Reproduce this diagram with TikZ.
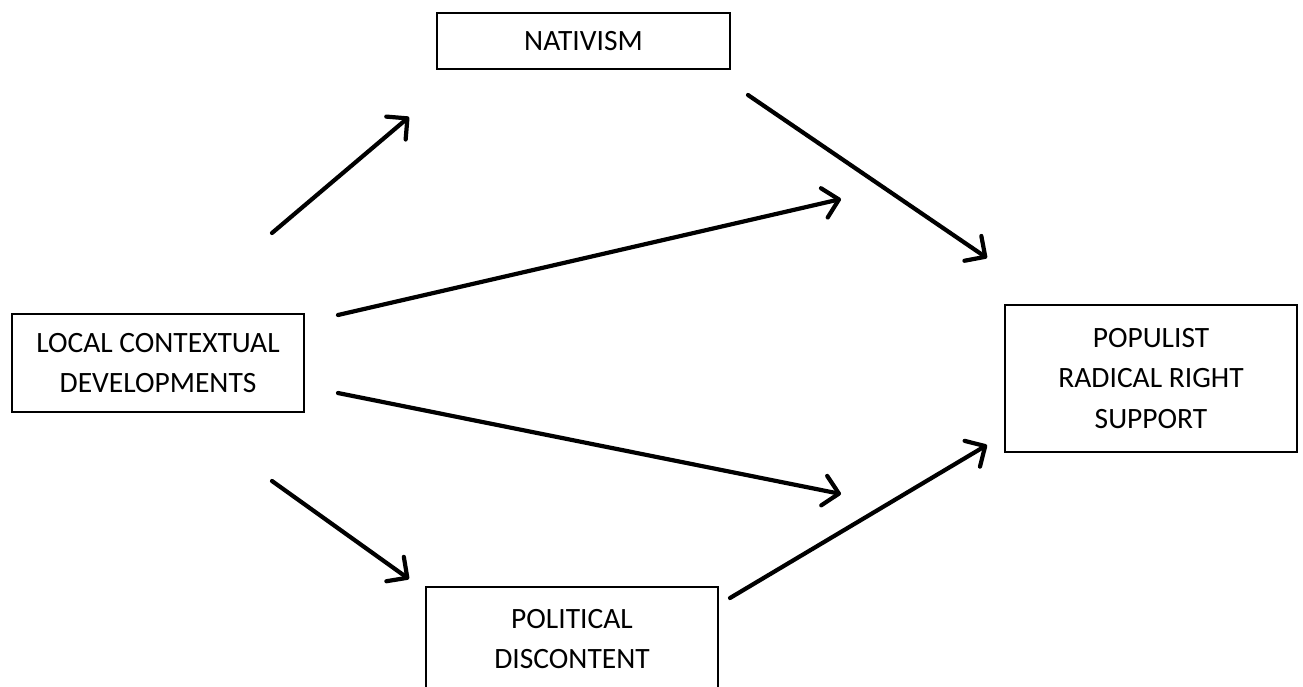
\documentclass[tikz,border=0pt]{standalone}
\usepackage{fontspec}
\setmainfont{Carlito}
\usetikzlibrary{arrows.meta}
\begin{document}
\begin{tikzpicture}[x=1pt,y=-1pt,
  box/.style={draw, line width=1.9pt, inner sep=0pt, align=center,
    font=\fontsize{29.5}{40.5}\selectfont},
  link/.style={line width=4.2pt, line cap=round,
    -{Straight Barb[length=15pt,width=30pt,line cap=round,line join=round]}}]
\useasboundingbox (0,0) rectangle (1303,686);
\clip (0,0) rectangle (1303,686);
\node[box, minimum width=293pt, minimum height=56pt] (nat) at (583.5,41) {NATIVISM};
\node[box, minimum width=292pt, minimum height=98pt] (loc) at (158,363) {LOCAL CONTEXTUAL\\DEVELOPMENTS};
\node[box, minimum width=292pt, minimum height=147pt] (prr) at (1151,378.5) {POPULIST\\RADICAL RIGHT\\SUPPORT};
\node[box, minimum width=292pt, minimum height=104pt] (pol) at (572,639) {POLITICAL\\DISCONTENT};
% arrow end points
\coordinate (a1s) at (272,233); \coordinate (a1e) at (409,117);
\coordinate (a2s) at (338,315); \coordinate (a2e) at (841,199);
\coordinate (a3s) at (338,393); \coordinate (a3e) at (841,494);
\coordinate (a4s) at (272,481); \coordinate (a4e) at (409,579);
\coordinate (a5s) at (748,95);  \coordinate (a5e) at (987,258);
\coordinate (a6s) at (730,598); \coordinate (a6e) at (987,445);
\draw[link] (a1s) -- (a1e);
\draw[link] (a2s) -- (a2e);
\draw[link] (a3s) -- (a3e);
\draw[link] (a4s) -- (a4e);
\draw[link] (a5s) -- (a5e);
\draw[link] (a6s) -- (a6e);
\end{tikzpicture}
\end{document}
